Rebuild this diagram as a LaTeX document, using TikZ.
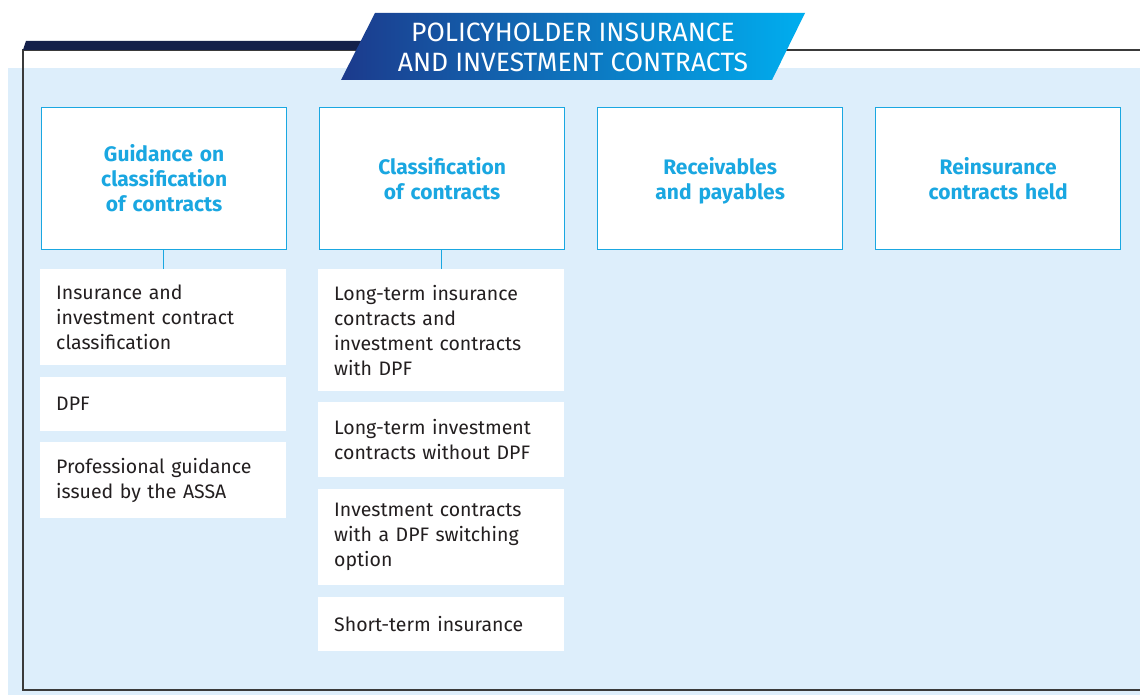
\documentclass[tikz,border=0pt]{standalone}
\usepackage{fontspec}
\setmainfont{Fira Sans}
\definecolor{bgblue}{HTML}{DDEEFB}
\definecolor{headcyan}{HTML}{1AA7E1}
\definecolor{navy}{HTML}{14204A}
\definecolor{bandleft}{HTML}{1C3A8C}
\definecolor{bandright}{HTML}{00AEEF}
\definecolor{framegrey}{HTML}{3A3A3A}
\definecolor{itemtext}{HTML}{231F20}
\begin{document}
\begin{tikzpicture}[x=1pt, y=-1pt,
  head/.style={draw=headcyan, line width=1.3pt, fill=white, anchor=north west, minimum width=245, minimum height=142, text width=225, align=center, inner sep=0, text=headcyan, font=\fontsize{21}{25}\selectfont\bfseries},
  item/.style={fill=white, anchor=north west, minimum width=246, text width=214, inner xsep=16, inner ysep=0, align=left, text=itemtext, font=\fontsize{19.5}{25}\selectfont},
  link/.style={draw=headcyan, line width=1.3pt},
  frameline/.style={draw=framegrey, line width=1.3pt}]
\useasboundingbox (0,0) rectangle (1140,695);
\fill[white] (0,0) rectangle (1140,695);
\fill[bgblue] (8,68) rectangle (1140,695);
\draw[frameline] (1140,50) -- (23,50) -- (23,690) -- (1140,690);
\fill[navy] (26,41) -- (370,41) -- (370,50) -- (23,50) -- cycle;
\shade[left color=bandleft, right color=bandright] (341,80) -- (375,13) -- (805,13) -- (772,80) -- cycle;
\node[text=white, align=center, inner sep=0, font=\fontsize{26.5}{30}\selectfont] (title) at (573,47) {POLICYHOLDER INSURANCE\\AND INVESTMENT CONTRACTS};

\node[head] (guide) at (41,107) {Guidance on\\classification\\of contracts};
\node[head] (classif) at (319,107) {Classification\\of contracts};
\node[head] (recv) at (597,107) {Receivables\\and \smash{pay}ables};
\node[head] (reins) at (875,107) {Reinsurance\\contracts held};

\node[item, minimum height=96] (insclass) at (40,269) {Insurance and\\investment contract\\classification};
\node[item, minimum height=54] (dpf) at (40,377) {DPF};
\node[item, minimum height=76] (assa) at (40,442) {Professional guidance\\issued by the ASSA};

\node[item, minimum height=122] (ltins) at (318,269) {Long-term insurance\\contracts and\\investment contracts\\with DPF};
\node[item, minimum height=75] (ltinv) at (318,402) {Long-term investment\\contracts without DPF};
\node[item, minimum height=96] (switch) at (318,489) {Investment contracts\\with a DPF switching\\option};
\node[item, minimum height=54] (stins) at (318,597) {Short-term insurance};

\draw[link] (insclass.north) -- (insclass.north |- guide.south);
\draw[link] (ltins.north) -- (ltins.north |- classif.south);
\end{tikzpicture}
\end{document}
